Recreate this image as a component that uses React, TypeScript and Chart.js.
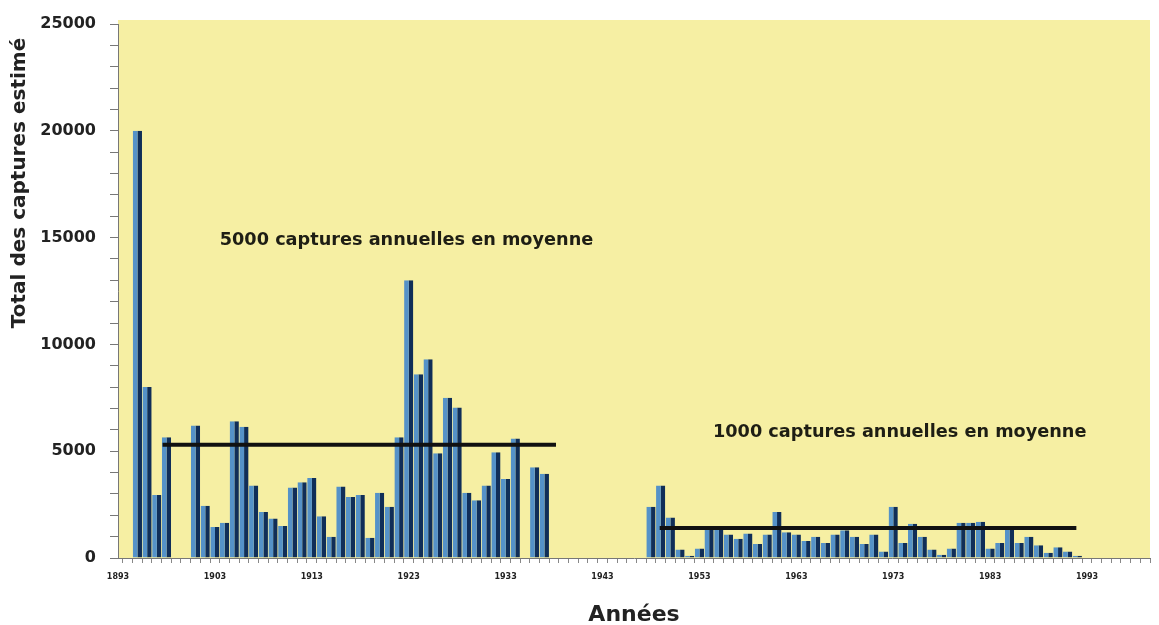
import React, { useEffect, useRef } from "react";
import { Chart, registerables } from "chart.js";

Chart.register(...registerables);

// ---------- DATA ----------
const years = [
  1895, 1896, 1897, 1898,
  1901, 1902, 1903, 1904, 1905, 1906, 1907, 1908, 1909, 1910,
  1911, 1912, 1913, 1914, 1915, 1916, 1917, 1918, 1919, 1920,
  1921, 1922, 1923, 1924, 1925, 1926, 1927, 1928, 1929, 1930,
  1931, 1932, 1933, 1934, 1936, 1937,
  1948, 1949, 1950, 1951, 1952, 1953, 1954, 1955, 1956, 1957,
  1958, 1959, 1960, 1961, 1962, 1963, 1964, 1965, 1966, 1967,
  1968, 1969, 1970, 1971, 1972, 1973, 1974, 1975, 1976, 1977,
  1978, 1979, 1980, 1981, 1982, 1983, 1984, 1985, 1986, 1987,
  1988, 1989, 1990, 1991, 1992,
];

const captures = [
  20000, 8000, 2950, 5650,
  6200, 2450, 1450, 1650, 6400, 6150, 3400, 2150, 1850, 1500,
  3300, 3550, 3750, 1950, 1000, 3350, 2850, 2950, 950, 3050,
  2400, 5650, 13000, 8600, 9300, 4900, 7500, 7050, 3050, 2700,
  3400, 4950, 3700, 5600, 4250, 3950,
  2400, 3400, 1900, 400, 100, 450, 1500, 1450, 1100, 900,
  1150, 650, 1100, 2150, 1200, 1100, 800, 1000, 700, 1100,
  1300, 1000, 650, 1100, 300, 2400, 700, 1600, 1000, 400,
  150, 450, 1650, 1650, 1700, 450, 700, 1450, 700, 1000,
  600, 250, 500, 300, 100,
];

// average lines: start year, end year, value
const averageStart = [1897.6, 1948.9];
const averageEnd = [1938.2, 1991.9];
const averageValue = [5300, 1400];

// annotation texts
const noteTexts = [
  "5000 captures annuelles en moyenne",
  "1000 captures annuelles en moyenne",
];
const noteYears = [1903.5, 1954.4];
const noteValues = [14850, 5900];

const xMin = 1893;
const xMax = 1999.5;
const xLabelYears = [1893, 1903, 1913, 1923, 1933, 1943, 1953, 1963, 1973, 1983, 1993];
const yMax = 25000;
const yMinorStep = 1000;
const yMajorStep = 5000;

const yTitle = "Total des captures estimé";
const xTitle = "Années";

const FONT = "'DejaVu Sans', 'Liberation Sans', Arial, sans-serif";

export default function App() {
  const canvasRef = useRef<HTMLCanvasElement | null>(null);

  useEffect(() => {
    if (!canvasRef.current) return;

    const bgPlugin = {
      id: "plotBg",
      beforeDraw(chart: any) {
        const { ctx, chartArea } = chart;
        ctx.save();
        ctx.fillStyle = "#f6efa3";
        ctx.fillRect(chartArea.left, chartArea.top - 4, chartArea.right - chartArea.left, chartArea.bottom - chartArea.top + 4);
        ctx.restore();
      },
    };

    const notePlugin = {
      id: "notes",
      afterDatasetsDraw(chart: any) {
        const { ctx } = chart;
        const xs = chart.scales.x;
        const ys = chart.scales.y;
        ctx.save();
        ctx.fillStyle = "#1e1e14";
        ctx.font = `bold 17.7px ${FONT}`;
        ctx.textAlign = "left";
        ctx.textBaseline = "middle";
        noteTexts.forEach((t, i) => {
          ctx.fillText(t, xs.getPixelForValue(noteYears[i]), ys.getPixelForValue(noteValues[i]));
        });
        ctx.restore();
      },
      afterDraw(chart: any) {
        const { ctx } = chart;
        ctx.save();
        ctx.fillStyle = "#222";
        ctx.font = `bold 20px ${FONT}`;
        ctx.textAlign = "center";
        ctx.textBaseline = "middle";
        ctx.translate(20, 183);
        ctx.rotate(-Math.PI / 2);
        ctx.fillText(yTitle, 0, 0);
        ctx.restore();
      },
    };

    const xTickValues: number[] = [];
    for (let y = xMin; y <= Math.floor(xMax); y++) xTickValues.push(y);

    const chart = new Chart(canvasRef.current, {
      type: "bar",
      data: {
        datasets: [
          ...averageValue.map((v, i) => ({
            type: "line" as const,
            data: [
              { x: averageStart[i], y: v },
              { x: averageEnd[i], y: v },
            ],
            borderColor: "#111111",
            borderWidth: 4,
            pointRadius: 0,
            order: 0,
          })),
          {
            type: "bar" as const,
            data: years.map((y, i) => ({ x: y, y: captures[i] })),
            backgroundColor: "#5592c8",
            borderColor: "#102e58",
            borderWidth: { top: 0, right: 4.5, bottom: 0, left: 0 },
            borderSkipped: false,
            categoryPercentage: 1,
            barPercentage: 0.95,
            order: 1,
          },
        ],
      },
      options: {
        animation: false,
        responsive: true,
        maintainAspectRatio: false,
        layout: { padding: { left: 0, top: 24, right: 9, bottom: 0 } },
        plugins: {
          legend: { display: false },
          tooltip: { enabled: false },
        },
        scales: {
          x: {
            type: "linear",
            min: xMin,
            max: xMax,
            offset: false,
            afterBuildTicks(scale: any) {
              scale.ticks = xTickValues.map((v) => ({ value: v }));
            },
            afterFit(scale: any) {
              scale.height = 67;
            },
            ticks: {
              autoSkip: false,
              maxRotation: 0,
              padding: 9,
              color: "#222",
              font: { family: FONT, size: 8, weight: "bold" },
              callback: (v: any) => (xLabelYears.includes(Number(v)) ? String(v) : ""),
            },
            grid: {
              drawOnChartArea: false,
              drawTicks: true,
              tickLength: 5,
              tickColor: "#888",
            },
            border: { display: true, color: "#777", width: 1 },
            title: {
              display: true,
              text: xTitle,
              color: "#222",
              font: { family: FONT, size: 22, weight: "bold" },
              padding: { top: 0, bottom: -3 },
            },
          },
          y: {
            min: 0,
            max: yMax,
            afterFit(scale: any) {
              scale.width = 118;
            },
            ticks: {
              stepSize: yMinorStep,
              autoSkip: false,
              padding: 14,
              color: "#222",
              font: { family: FONT, size: 16, weight: "bold" },
              callback: (v: any) => (Number(v) % yMajorStep === 0 ? String(v) : ""),
            },
            grid: {
              drawOnChartArea: false,
              drawTicks: true,
              tickLength: 8,
              tickColor: "#777",
            },
            border: { display: true, color: "#777", width: 1 },
            title: { display: false },
          },
        },
      },
      plugins: [bgPlugin, notePlugin],
    } as any);

    return () => chart.destroy();
  }, []);

  return (
    <div style={{ position: "fixed", left: 0, top: 0, width: 1159, height: 625, background: "#ffffff" }}>
      <canvas ref={canvasRef} />
    </div>
  );
}
